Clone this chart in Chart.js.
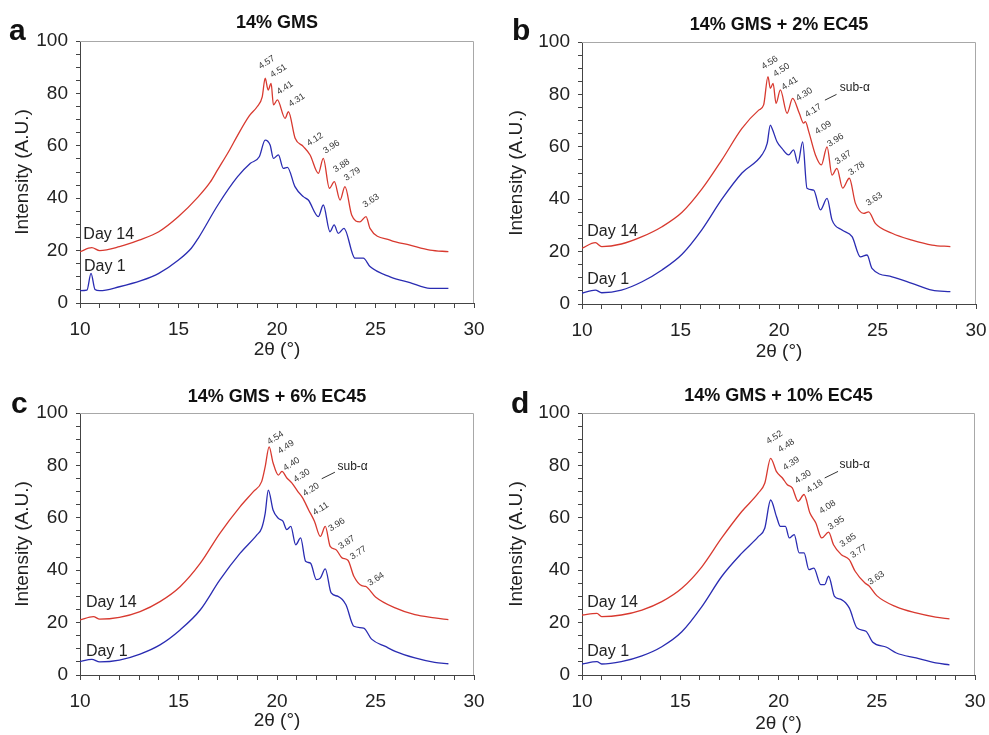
<!DOCTYPE html>
<html>
<head>
<meta charset="utf-8">
<script src="https://cdn.jsdelivr.net/npm/chart.js@4.4.1/dist/chart.umd.min.js"></script>
<style>
  body { margin: 0; background: #fff; }
  canvas { position: absolute; }
</style>
</head>
<body>
<canvas id="chartA" width="494" height="367" style="left:0;top:0"></canvas>
<canvas id="chartB" width="495" height="367" style="left:494px;top:0"></canvas>
<canvas id="chartC" width="494" height="368" style="left:0;top:367px"></canvas>
<canvas id="chartD" width="495" height="368" style="left:494px;top:367px"></canvas>
<script>
// ---- data: 2θ (°) vs intensity (A.U.) ----
// a: 14% GMS
const aDay1X = [10, 10.35, 10.56, 10.76, 11, 12, 13.1, 14, 15, 15.65, 16, 17, 18, 18.65, 19.1, 19.4, 19.65, 19.82, 20.07, 20.32, 20.53, 20.91, 21.34, 21.59, 22.1, 22.35, 22.69, 22.9, 23.11, 23.4, 23.96, 24.38, 24.72, 25.74, 26.75, 27.77, 28.7];
const aDay1Y = [4.7, 4.9, 11.3, 5.2, 4.7, 6.2, 8.5, 11.3, 16.4, 20.9, 24.7, 37.4, 48.2, 53.3, 55.8, 62.2, 60.3, 55.2, 56.5, 51.4, 51.8, 44.4, 40.6, 39.3, 33, 37.4, 27.2, 29.8, 26.6, 28.5, 17.1, 17.1, 13.9, 10, 7.8, 5.6, 5.6];
const aDay14X = [10, 10.6, 11, 12, 13, 14, 15, 16, 16.6, 17, 17.6, 18, 18.6, 19, 19.25, 19.4, 19.55, 19.7, 19.82, 20.02, 20.41, 20.58, 20.92, 21.34, 21.68, 22.1, 22.35, 22.66, 22.91, 23.2, 23.45, 23.79, 24.21, 24.52, 24.72, 25.74, 26.75, 27.77, 28.7];
const aDay14Y = [19.6, 21.1, 20, 21.5, 24, 27.2, 33, 40.5, 46, 51, 58.5, 64, 71.5, 75, 78.7, 85.8, 81.3, 83.8, 75.6, 77.5, 70.5, 73, 62.9, 59.7, 56.5, 49.5, 55.2, 43.8, 46.3, 39.3, 44.4, 33.6, 31, 33, 28.5, 24, 22.1, 20.2, 19.6];
const aPeakText = ['4.57', '4.51', '4.41', '4.31', '4.12', '3.96', '3.88', '3.79', '3.63'];
const aPeakX = [19.48, 20.08, 20.4, 21.0, 21.93, 22.77, 23.28, 23.82, 24.77];
const aPeakY = [91.8, 88.6, 82.1, 77.4, 62.4, 59.6, 52.4, 49.2, 39];

// b: 14% GMS + 2% EC45
const bDay1X = [10, 10.68, 11, 12, 13.05, 14.06, 15.08, 16.1, 17.1, 18.12, 19.14, 19.4, 19.56, 19.65, 19.9, 20.15, 20.49, 20.74, 20.96, 21.2, 21.42, 21.76, 22.1, 22.44, 22.69, 23.2, 23.71, 24.13, 24.47, 24.72, 25.74, 26.75, 27.77, 28.7];
const bDay1Y = [4.1, 5.3, 4.3, 5.3, 8.5, 13, 19, 28.5, 40, 50, 57, 61.3, 68.3, 67, 61.9, 59.4, 56.9, 58.8, 53.7, 61.9, 44.2, 43.5, 35.9, 40.3, 32.1, 28.2, 25.7, 18, 18.7, 13.6, 10.4, 7.9, 5.3, 4.7];
const bDay14X = [10, 10.68, 11, 12, 13.05, 14.06, 15.08, 16.1, 17.1, 18.12, 18.97, 19.22, 19.44, 19.56, 19.7, 19.85, 20.07, 20.41, 20.69, 21.03, 21.25, 21.34, 21.51, 21.85, 22.15, 22.44, 22.69, 22.94, 23.23, 23.57, 23.88, 24.3, 24.55, 24.89, 25.74, 26.75, 27.77, 28.7];
const bDay14Y = [21.3, 23.4, 21.9, 22.9, 25.7, 29.5, 35, 44, 55, 67, 74, 76, 86.8, 82.3, 84.2, 76.6, 81.7, 72.8, 78.5, 72.8, 69, 69.6, 65.8, 56.9, 53.1, 60, 49.2, 51.8, 44.2, 48, 38.4, 34.6, 35.2, 30.8, 27, 24.4, 22.5, 21.9];
const bPeakText = ['4.56', '4.50', '4.41', '4.30', '4.17', '4.09', '3.96', '3.87', '3.78', '3.63'];
const bPeakX = [19.53, 20.13, 20.55, 21.28, 21.74, 22.24, 22.87, 23.26, 23.94, 24.83];
const bPeakY = [92.1, 89.3, 84.2, 80, 73.8, 67.3, 62.5, 55.9, 51.7, 40];

// c: 14% GMS + 6% EC45
const cDay1X = [10, 10.6, 11, 12, 13.05, 14.06, 15.08, 16.1, 17.1, 18.12, 18.97, 19.22, 19.4, 19.56, 19.8, 20.07, 20.3, 20.5, 20.7, 20.95, 21.2, 21.45, 21.7, 22, 22.2, 22.45, 22.75, 23.1, 23.5, 23.9, 24.4, 24.8, 25.5, 26, 27, 28, 28.7];
const cDay1Y = [5.1, 6, 5, 5.7, 8, 11.5, 17.2, 24.8, 36.3, 46.4, 53.4, 56, 61.7, 70.6, 63, 59.8, 58.7, 55.5, 56.7, 49.7, 52.3, 43.4, 42.7, 36.4, 37, 40.5, 31.3, 30, 26.8, 18.6, 17.9, 13.7, 10.9, 9, 6.5, 4.8, 4.3];
const cDay14X = [10, 10.68, 11, 12, 13.05, 14.06, 15.08, 16.1, 17.1, 18.12, 18.8, 19.22, 19.4, 19.6, 19.8, 20.07, 20.25, 20.5, 20.75, 21.05, 21.3, 21.6, 21.9, 22.2, 22.45, 22.7, 23, 23.3, 23.6, 23.9, 24.3, 24.5, 25, 26, 27, 28, 28.7];
const cDay14Y = [21, 22.3, 21.3, 22, 24.2, 28, 33.7, 42.6, 54.1, 64.2, 70, 73.8, 79.5, 87.1, 81, 76.3, 77.7, 75.2, 73.3, 70.1, 67.6, 63.1, 58.7, 52.9, 56.7, 49.1, 47.8, 44.7, 43.8, 37.7, 34.1, 33.8, 29.8, 25.6, 23, 21.8, 21.1];
const cPeakText = ['4.54', '4.49', '4.40', '4.30', '4.20', '4.11', '3.96', '3.87', '3.77', '3.64'];
const cPeakX = [19.92, 20.46, 20.74, 21.25, 21.73, 22.22, 23.03, 23.54, 24.13, 25.03];
const cPeakY = [90.5, 87, 80.5, 76.1, 70.7, 63.4, 57.4, 50.6, 46.6, 36.6];

// d: 14% GMS + 10% EC45
const dDay1X = [10, 10.76, 11, 12, 13.05, 14.06, 15.08, 16.1, 17.1, 18.12, 18.97, 19.3, 19.6, 19.9, 20.1, 20.35, 20.55, 20.8, 21.05, 21.3, 21.55, 21.8, 22.15, 22.35, 22.55, 22.85, 23.2, 23.6, 24, 24.45, 24.8, 25.5, 26, 27, 28, 28.7];
const dDay1Y = [4.2, 5.1, 4.2, 5.1, 7.3, 10.8, 16.5, 26.1, 37.5, 46.4, 52.8, 56, 66.8, 60.4, 56.7, 56.7, 52.3, 53.6, 46.6, 46.6, 40.2, 40.8, 34.5, 34.5, 37.7, 30, 28.8, 25.6, 17.9, 16.7, 12.5, 10.6, 8.4, 6.5, 4.6, 3.9];
const dDay14X = [10, 10.76, 11, 12, 13.05, 14.06, 15.08, 16.1, 17.1, 18.12, 18.97, 19.3, 19.6, 19.9, 20.2, 20.45, 20.7, 21, 21.3, 21.6, 21.9, 22.2, 22.55, 22.8, 23.2, 23.6, 23.9, 24.4, 24.6, 25, 26, 27, 28, 28.7];
const dDay14Y = [22.9, 23.5, 22.3, 22.9, 24.8, 28, 33.1, 41.3, 52.2, 62.3, 69.4, 73.2, 82.7, 77.6, 75.2, 72.6, 71.4, 66.3, 68.9, 61.8, 58, 52.3, 54.5, 49.7, 45.9, 44, 39.6, 35.1, 34.1, 30.3, 26, 23.7, 22.1, 21.4];
const dPeakText = ['4.52', '4.48', '4.39', '4.30', '4.18', '4.08', '3.95', '3.85', '3.77', '3.63'];
const dPeakX = [19.8, 20.4, 20.65, 21.25, 21.84, 22.49, 22.94, 23.54, 24.08, 24.98];
const dPeakY = [90.7, 87.5, 80.7, 75.6, 72, 64.1, 58, 51.4, 47.2, 37];

const FONT = '"Liberation Sans", Arial, Helvetica, sans-serif';
const RED = '#d8392f';
const BLUE = '#2a2cb2';

// panel layout (pixel boxes inside each canvas) and annotation placement
const panels = [
    {
        id: 'chartA', title: '14% GMS', letter: 'a', w: 494, h: 367,
        plot: { l: 80, r: 474, t: 41, b: 303 }, titleY: 23, letterX: 9, letterY: 40, xTitlePad: 6,
        day1X: aDay1X, day1Y: aDay1Y, day14X: aDay14X, day14Y: aDay14Y,
        peakText: aPeakText, peakX: aPeakX, peakY: aPeakY,
        day14At: [10.17, 26], day1At: [10.2, 14], subAlpha: null
    },
    {
        id: 'chartB', title: '14% GMS + 2% EC45', letter: 'b', w: 495, h: 367,
        plot: { l: 88, r: 482, t: 42, b: 304 }, titleY: 25, letterX: 18, letterY: 40, xTitlePad: 4,
        day1X: bDay1X, day1Y: bDay1Y, day14X: bDay14X, day14Y: bDay14Y,
        peakText: bPeakText, peakX: bPeakX, peakY: bPeakY,
        day14At: [10.27, 27.8], day1At: [10.27, 9.3],
        subAlpha: { text: [23.85, 82.7], from: [22.33, 77.8], to: [22.92, 80] }
    },
    {
        id: 'chartC', title: '14% GMS + 6% EC45', letter: 'c', w: 494, h: 368,
        plot: { l: 80, r: 474, t: 46, b: 308 }, titleY: 30, letterX: 11, letterY: 46, xTitlePad: 3,
        day1X: cDay1X, day1Y: cDay1Y, day14X: cDay14X, day14Y: cDay14Y,
        peakText: cPeakText, peakX: cPeakX, peakY: cPeakY,
        day14At: [10.3, 27.5], day1At: [10.3, 9.0],
        subAlpha: { text: [23.84, 79.6], from: [22.27, 74.9], to: [22.94, 77.4] }
    },
    {
        id: 'chartD', title: '14% GMS + 10% EC45', letter: 'd', w: 495, h: 368,
        plot: { l: 88, r: 481, t: 46, b: 308 }, titleY: 29, letterX: 17, letterY: 46, xTitlePad: 0,
        day1X: dDay1X, day1Y: dDay1Y, day14X: dDay14X, day14Y: dDay14Y,
        peakText: dPeakText, peakX: dPeakX, peakY: dPeakY,
        day14At: [10.27, 27.5], day1At: [10.27, 9.0],
        subAlpha: { text: [23.88, 80.3], from: [22.35, 75.2], to: [23.03, 77.7] }
    }
];

// draws frame, panel title/letter, Day labels and d-spacing labels
const decorPlugin = {
    id: 'decor',
    afterDraw(chart, args, opts) {
        const p = opts.panel;
        const { ctx, chartArea: a } = chart;
        const x = chart.scales.x;
        const y = chart.scales.y;
        ctx.save();

        // top + right frame
        ctx.strokeStyle = '#a8a8a8';
        ctx.lineWidth = 1;
        ctx.beginPath();
        ctx.moveTo(a.left, a.top + 0.5);
        ctx.lineTo(a.right - 0.5, a.top + 0.5);
        ctx.lineTo(a.right - 0.5, a.bottom);
        ctx.stroke();

        // panel title
        ctx.fillStyle = '#111';
        ctx.font = 'bold 18px ' + FONT;
        ctx.textAlign = 'center';
        ctx.textBaseline = 'middle';
        ctx.fillText(p.title, (a.left + a.right) / 2, p.titleY);

        // panel letter
        ctx.font = 'bold 30px ' + FONT;
        ctx.textAlign = 'left';
        ctx.textBaseline = 'alphabetic';
        ctx.fillText(p.letter, p.letterX, p.letterY);

        // Day labels
        ctx.font = '16px ' + FONT;
        ctx.fillStyle = '#222';
        ctx.textBaseline = 'middle';
        ctx.fillText('Day 14', x.getPixelForValue(p.day14At[0]), y.getPixelForValue(p.day14At[1]));
        ctx.fillText('Day 1', x.getPixelForValue(p.day1At[0]), y.getPixelForValue(p.day1At[1]));

        // d-spacing labels (Å), rotated
        ctx.font = '9px ' + FONT;
        ctx.fillStyle = '#333';
        ctx.textAlign = 'center';
        p.peakText.forEach((t, i) => {
            ctx.save();
            ctx.translate(x.getPixelForValue(p.peakX[i]), y.getPixelForValue(p.peakY[i]));
            ctx.rotate(-33 * Math.PI / 180);
            ctx.fillText(t, 0, 0);
            ctx.restore();
        });

        // sub-α marker
        if (p.subAlpha) {
            const s = p.subAlpha;
            ctx.strokeStyle = '#333';
            ctx.beginPath();
            ctx.moveTo(x.getPixelForValue(s.from[0]), y.getPixelForValue(s.from[1]));
            ctx.lineTo(x.getPixelForValue(s.to[0]), y.getPixelForValue(s.to[1]));
            ctx.stroke();
            ctx.font = '12px ' + FONT;
            ctx.fillStyle = '#222';
            ctx.fillText('sub-α', x.getPixelForValue(s.text[0]), y.getPixelForValue(s.text[1]));
        }
        ctx.restore();
    }
};

function toPoints(xs, ys) {
    return xs.map((v, i) => ({ x: v, y: ys[i] }));
}

function makeChart(p) {
    const ctx = document.getElementById(p.id).getContext('2d');
    const line = { borderWidth: 1.3, pointRadius: 0, cubicInterpolationMode: 'monotone' };
    return new Chart(ctx, {
        type: 'line',
        data: {
            datasets: [
                Object.assign({ label: 'Day 14', data: toPoints(p.day14X, p.day14Y), borderColor: RED }, line),
                Object.assign({ label: 'Day 1', data: toPoints(p.day1X, p.day1Y), borderColor: BLUE }, line)
            ]
        },
        options: {
            responsive: false,
            animation: false,
            layout: { padding: { left: 0, top: p.plot.t, right: p.w - p.plot.r, bottom: 0 } },
            plugins: {
                legend: { display: false },
                tooltip: { enabled: false },
                decor: { panel: p }
            },
            scales: {
                x: {
                    type: 'linear', min: 10, max: 30,
                    afterFit: function (scale) {
                        // fixed axis band; labels may overhang into the layout padding
                        scale.height = p.h - p.plot.b;
                        scale.paddingLeft = 0;
                        scale.paddingRight = 0;
                    },
                    ticks: {
                        stepSize: 1, autoSkip: false, maxRotation: 0, padding: 10,
                        color: '#222', font: { family: FONT, size: 19 },
                        callback: v => (v % 5 === 0 ? v : '')
                    },
                    grid: { drawOnChartArea: false, drawTicks: true, tickLength: 5, tickColor: '#444' },
                    border: { color: '#444', width: 1 },
                    title: {
                        display: true, text: '2θ (°)', color: '#222',
                        font: { family: FONT, size: 19 }, padding: { top: 0, bottom: p.xTitlePad }
                    }
                },
                y: {
                    min: 0, max: 100,
                    afterFit: function (scale) {
                        scale.width = p.plot.l;
                        scale.paddingTop = 0;
                        scale.paddingBottom = 0;
                    },
                    ticks: {
                        stepSize: 5, autoSkip: false, padding: 8,
                        color: '#222', font: { family: FONT, size: 19 },
                        callback: v => (v % 20 === 0 ? v : '')
                    },
                    grid: { drawOnChartArea: false, drawTicks: true, tickLength: 4, tickColor: '#444' },
                    border: { color: '#444', width: 1 },
                    title: {
                        display: true, text: 'Intensity (A.U.)', color: '#222',
                        font: { family: FONT, size: 19 }, padding: { top: 11, bottom: 0 }
                    }
                }
            }
        },
        plugins: [decorPlugin]
    });
}

panels.forEach(makeChart);
</script>
</body>
</html>
